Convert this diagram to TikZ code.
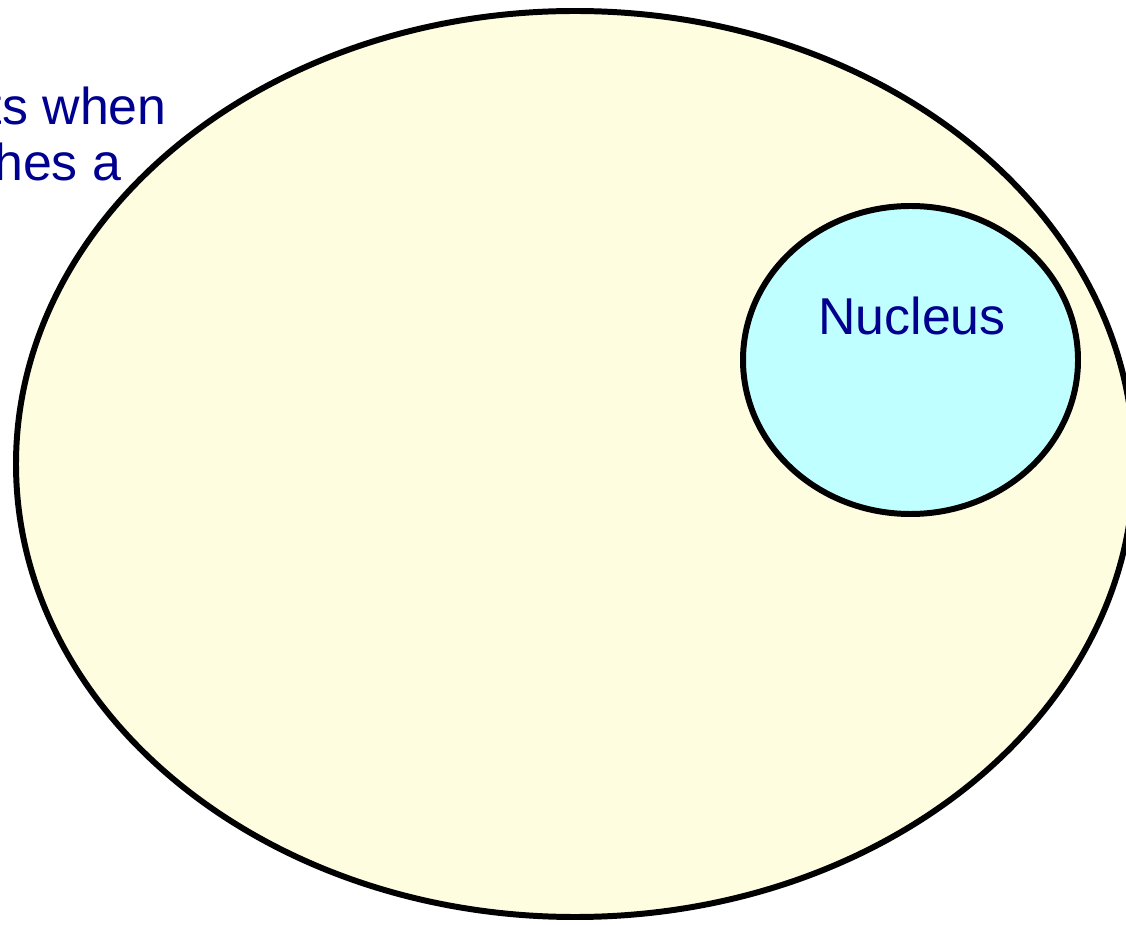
\documentclass[tikz,border=0pt]{standalone}
\usepackage{fontspec}
\setmainfont{Liberation Sans}
\usetikzlibrary{shapes.geometric}
\definecolor{cellyellow}{RGB}{255,253,224}
\definecolor{nuclcyan}{RGB}{192,255,255}
\definecolor{lblblue}{RGB}{0,0,144}
\tikzset{
  cellwall/.style ={draw, ellipse, inner sep=0pt, line width=3.4pt, fill=cellyellow},
  nuclwall/.style ={draw, ellipse, inner sep=0pt, line width=3.4pt, fill=nuclcyan},
  lbl/.style      ={font=\fontsize{29.5}{34}\selectfont, text=lblblue, inner sep=0pt},
}
\begin{document}
\begin{tikzpicture}
  \useasboundingbox (0,0) rectangle (22.52,18.5);
  \clip (0,0) rectangle (22.52,18.5);
  % text running behind the cell
  \node[lbl, anchor=base east] (txtA) at (3.34,16.0) {ts when};
  \node[lbl, anchor=base east] (txtB) at (2.43,14.88) {hes a};
  % cell and nucleus
  \node[cellwall, minimum width=22.36cm, minimum height=18.12cm] (cell) at (11.5,9.22) {};
  \node[nuclwall, minimum width=6.7cm, minimum height=6.16cm] (nucleus) at (18.21,11.3) {};
  \node[lbl, anchor=base] (nuclbl) at (18.24,11.8) {Nucleus};
\end{tikzpicture}
\end{document}
